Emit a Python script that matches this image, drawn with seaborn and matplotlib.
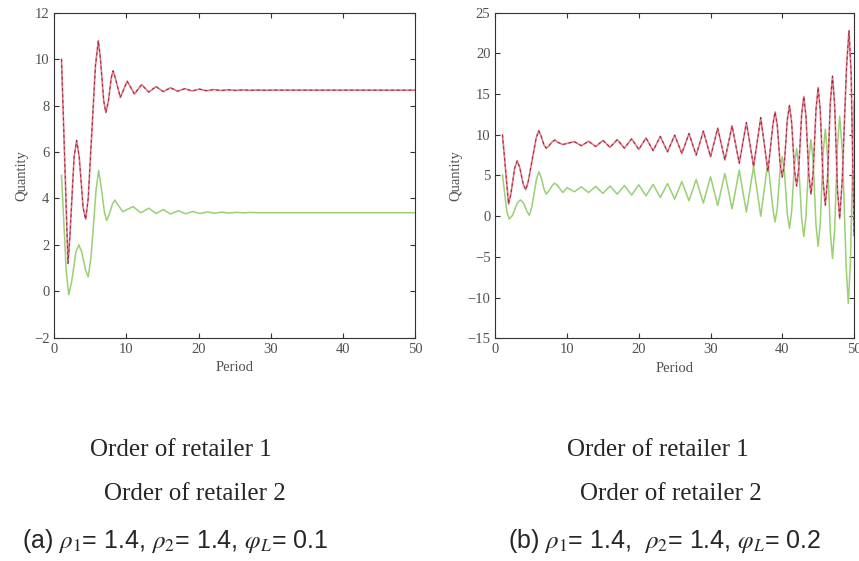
import numpy as np
import pandas as pd
import matplotlib
matplotlib.use("Agg")
import matplotlib.pyplot as plt
import seaborn as sns

# points (period, order quantity): turning points plus
# a few shoulder points where the swings are large
# panel (a): rho1 = 1.4, rho2 = 1.4, phiL = 0.1
a_r1_period = [1, 1.9, 2.15, 2.75, 3.1, 3.45, 4.0, 4.35, 4.7, 5.7, 6.1, 6.4, 6.85, 7.15,
               7.5, 7.9, 8.15, 8.45, 9.15, 10.1, 11.1, 12.1, 13.1, 14.1, 15.1,
               16.1, 17.1, 18.1, 19.1, 20.1, 21.1, 22.1, 23.1, 24.1, 25.1, 26.1, 27.1, 28.1,
               29.1, 30.1, 50]
a_r1_qty = [10.0, 1.2, 2.3, 5.8, 6.5, 5.8, 3.6, 3.1, 4.0, 9.7, 10.8, 10.0, 8.2, 7.7,
            8.2, 9.2, 9.5, 9.2, 8.35, 9.05, 8.5, 8.9, 8.58, 8.82, 8.6,
            8.77, 8.62, 8.73, 8.63, 8.71, 8.64, 8.69, 8.65, 8.68, 8.655, 8.675, 8.66, 8.67,
            8.662, 8.667, 8.665]

a_r2_period = [1, 1.65, 2.0, 2.4, 3.0, 3.4, 3.8, 4.35, 4.7, 5.1, 5.8, 6.15, 6.5, 6.95, 7.25,
               7.6, 8.05, 8.4, 8.75, 9.5, 10.9, 12.0, 13.1, 14.1, 15.1, 16.1,
               17.2, 18.2, 19.2, 20.2, 21.2, 22.2, 23.2, 24.2, 25.2, 26.2, 27.2, 28.2, 50]
a_r2_qty = [5.0, 0.9, -0.15, 0.4, 1.7, 2.0, 1.7, 0.9, 0.62, 1.5, 4.4, 5.2, 4.5, 3.4, 3.05,
            3.3, 3.75, 3.93, 3.75, 3.43, 3.65, 3.38, 3.58, 3.35, 3.52, 3.33,
            3.47, 3.34, 3.44, 3.35, 3.42, 3.36, 3.41, 3.37, 3.40, 3.38, 3.395, 3.385, 3.385]

# panel (b): rho1 = 1.4, rho2 = 1.4, phiL = 0.2
b_r1_period = [1, 1.85, 2.15, 2.7, 3.05, 3.4, 3.9, 4.25, 4.6, 5.7, 6.05, 6.4, 6.8, 7.1,
               7.45, 7.95, 8.3, 8.65, 9.4,
               11, 12, 13, 14, 15, 16, 17, 18, 19, 20, 21, 22, 23, 24, 25, 26, 27, 28,
               29, 30, 31, 32, 33, 34, 35, 36, 37, 38,
               38.7, 39, 39.3, 39.7, 40, 40.3, 40.7, 41, 41.3, 41.7, 42, 42.3,
               42.7, 43, 43.3, 43.7, 44, 44.3, 44.7, 45, 45.3, 45.7, 46, 46.3,
               46.7, 47, 47.3, 47.7, 48, 48.35, 48.95, 49.3, 49.6, 50]
b_r1_qty = [10.0, 1.5, 2.6, 5.9, 6.8, 6.0, 3.9, 3.25, 4.3, 9.6, 10.5, 9.8, 8.7, 8.35,
            8.6, 9.15, 9.35, 9.1, 8.8,
            9.15, 8.65, 9.2, 8.55, 9.3, 8.45, 9.4, 8.35, 9.5, 8.2, 9.6, 8.05, 9.8, 7.9,
            9.95, 7.7, 10.15, 7.5, 10.45, 7.3, 10.8, 6.9, 11.1, 6.5, 11.5, 6.1, 12.1, 5.5,
            11.3, 12.8, 11.2, 6.4, 4.8, 6.6, 11.8, 13.6, 11.6, 5.7, 3.7, 5.9,
            12.5, 14.7, 12.3, 5.1, 2.7, 5.3, 13.1, 15.8, 12.9, 4.2, 1.35, 4.5,
            14.0, 17.2, 13.7, 3.2, -0.3, 4.3, 18.2, 22.8, 17.5, -2.4]

b_r2_period = [1, 1.6, 1.95, 2.4, 3.05, 3.5, 3.95, 4.4, 4.75, 5.1, 5.75, 6.1, 6.45, 6.8,
               7.1, 7.45, 7.9, 8.25, 8.65, 9.4,
               10, 11, 12, 13, 14, 15, 16, 17, 18, 19, 20, 21, 22, 23, 24, 25, 26, 27,
               28, 29, 30, 31, 32, 33, 34, 35, 36, 37, 38,
               38.7, 39, 39.3, 39.7, 40, 40.3, 40.7, 41, 41.3, 41.7, 42, 42.3,
               42.7, 43, 43.3, 43.7, 44, 44.3, 44.7, 45, 45.3, 45.7, 46, 46.3,
               46.7, 47, 47.3, 47.7, 48, 48.4, 48.9, 49.2, 49.5, 50]
b_r2_qty = [5.1, 0.6, -0.35, 0.1, 1.6, 2.0, 1.6, 0.6, 0.1, 1.2, 4.6, 5.45, 4.6, 3.3,
            2.7, 3.1, 3.7, 4.05, 3.8, 2.9,
            3.5, 3.0, 3.6, 2.9, 3.65, 2.8, 3.7, 2.7, 3.75, 2.6, 3.85, 2.5, 3.9, 2.3,
            4.0, 2.1, 4.25, 1.9, 4.5, 1.6, 4.85, 1.3, 5.25, 0.9, 5.65, 0.5, 6.1, 0.0, 6.7,
            0.8, -0.7, 0.9, 5.7, 7.3, 5.5, 0.3, -1.5, 0.5, 6.3, 8.3, 6.1,
            -0.3, -2.5, -0.1, 7.0, 9.4, 6.8, -1.1, -3.7, -0.8, 7.8, 10.7, 7.5,
            -2.0, -5.2, -1.7, 8.8, 12.3, 7.7, -6.1, -10.7, -5.7, 14.2]

a_yticks = [-2, 0, 2, 4, 6, 8, 10, 12]
b_yticks = [-15, -10, -5, 0, 5, 10, 15, 20, 25]
xticks = [0, 10, 20, 30, 40, 50]

sns.set_style("ticks")
plt.rcParams['font.family'] = ['Liberation Serif', 'DejaVu Serif']
plt.rcParams['mathtext.fontset'] = 'stix'

RED = '#e57987'
DARK = '#8e2a40'
GREEN = '#9acf74'


def draw_panel(ax, p1, q1, p2, q2, yticks):
    sns.lineplot(x=p2, y=q2, ax=ax, color=GREEN, lw=1.1, sort=False, estimator=None)
    sns.lineplot(x=p1, y=q1, ax=ax, color=RED, lw=1.2, sort=False, estimator=None)
    sns.lineplot(x=p1, y=q1, ax=ax, color=DARK, lw=0.7, sort=False, estimator=None,
                 linestyle=(0, (3, 3)))
    ax.set_xlim(0, 50)
    ax.set_ylim(yticks[0], yticks[-1])
    ax.set_xticks(xticks)
    ax.set_yticks(yticks)
    ax.tick_params(direction='in', top=True, right=True, length=3.5, width=0.8,
                   labelsize=10.5, labelcolor='#505050', color='#333333')
    for s in ax.spines.values():
        s.set_color('#333333')
        s.set_linewidth(0.8)
    ax.set_xlabel('Period', fontsize=10.5, color='#505050', labelpad=4)
    ax.set_ylabel('Quantity', fontsize=10.5, color='#505050', labelpad=4)


fig = plt.figure(figsize=(8.59, 5.61), dpi=100)
ax1 = fig.add_axes([0.0632, 0.398, 0.42, 0.5793])
ax2 = fig.add_axes([0.5766, 0.397, 0.4176, 0.5805])

draw_panel(ax1, a_r1_period, a_r1_qty, a_r2_period, a_r2_qty, a_yticks)
draw_panel(ax2, b_r1_period, b_r1_qty, b_r2_period, b_r2_qty, b_yticks)

# legend text as it stands under the plots
for cx in (181, 658):
    fig.text(cx / 859, 1 - 450 / 561, 'Order of retailer 1', ha='center', va='center',
             fontsize=18, family='Liberation Serif')
for cx in (195, 671):
    fig.text(cx / 859, 1 - 494 / 561, 'Order of retailer 2', ha='center', va='center',
             fontsize=18, family='Liberation Serif')

fig.text(22 / 859, 1 - 541 / 561, r'(a) $\rho_1$= 1.4, $\rho_2$= 1.4, $\varphi_L$= 0.1',
         ha='left', va='center', fontsize=18, family='Liberation Sans')
fig.text(508 / 859, 1 - 541 / 561, r'(b) $\rho_1$= 1.4,  $\rho_2$= 1.4, $\varphi_L$= 0.2',
         ha='left', va='center', fontsize=18, family='Liberation Sans')

fig.savefig('out.png', dpi=100)
